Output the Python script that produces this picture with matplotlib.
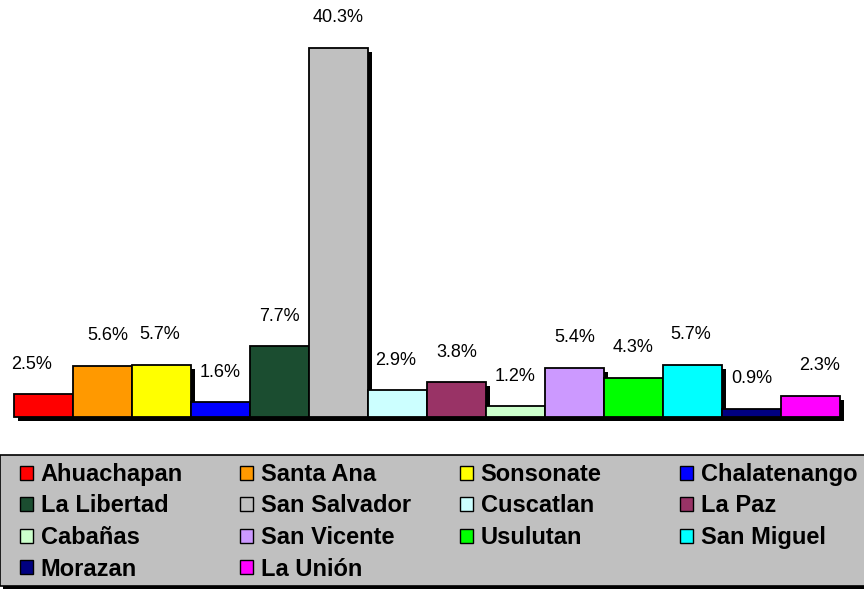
import matplotlib
matplotlib.use("Agg")
import matplotlib.pyplot as plt
from matplotlib.patches import Rectangle
import matplotlib.patheffects as pe

plt.rcParams['font.family'] = ['Liberation Sans', 'DejaVu Sans']

categories = ["Ahuachapan", "Santa Ana", "Sonsonate", "Chalatenango", "La Libertad",
              "San Salvador", "Cuscatlan", "La Paz", "Cabañas", "San Vicente",
              "Usulutan", "San Miguel", "Morazan", "La Unión"]
values = [2.5, 5.6, 5.7, 1.6, 7.7, 40.3, 2.9, 3.8, 1.2, 5.4, 4.3, 5.7, 0.9, 2.3]
labels = ["2.5%", "5.6%", "5.7%", "1.6%", "7.7%", "40.3%", "2.9%", "3.8%",
          "1.2%", "5.4%", "4.3%", "5.7%", "0.9%", "2.3%"]
colors = ["#FF0000", "#FF9900", "#FFFF00", "#0000FF", "#1B4D30", "#C0C0C0",
          "#CCFFFF", "#993366", "#CCFFCC", "#CC99FF", "#00FF00", "#00FFFF",
          "#000080", "#FF00FF"]
label_dx = [-12, 5, -2, 0, 0, 0, -2, 0, 0, 0, 0, -2, 0, 9]

W, H = 864, 590
fig = plt.figure(figsize=(W / 100, H / 100), dpi=100)

ax = fig.add_axes([14 / W, 173 / H, (840 - 14) / W, 417 / H])
ax.set_xlim(-0.5, len(values) - 0.5)
ax.set_ylim(0, 45.5)
ax.axis('off')

shadow = [pe.SimplePatchShadow(offset=(3, -3), shadow_rgbFace='black', alpha=1.0), pe.Normal()]
x = list(range(len(values)))
bars = ax.bar(x, values, width=1.0, color=colors, edgecolor='black', linewidth=1.3)
for b in bars:
    b.set_path_effects(shadow)
    b.set_clip_on(False)

for xi, v, lab, dx in zip(x, values, labels, label_dx):
    ax.annotate(lab, (xi, v), xytext=(dx, 30), textcoords='offset pixels',
                ha='center', va='center', fontsize=13)

# Legend background box with shadow
bg = Rectangle((0, 4 / H), 870 / W, 131 / H, transform=fig.transFigure,
               facecolor='#C0C0C0', edgecolor='black', linewidth=1.2,
               path_effects=[pe.SimplePatchShadow(offset=(2.5, -2.5), shadow_rgbFace='black', alpha=1.0), pe.Normal()],
               zorder=0)
fig.patches.append(bg)

ncol = 4
col_x = [20, 240, 460, 680]
for c in range(ncol):
    idx = list(range(c, len(categories), ncol))
    handles = [Rectangle((0, 0), 1, 1, facecolor=colors[i], edgecolor='black', linewidth=1.0) for i in idx]
    labs = [categories[i] for i in idx]
    leg = fig.legend(handles, labs, loc='upper left',
                     bbox_to_anchor=(col_x[c] / W, (H - 463) / H),
                     frameon=False, borderpad=0, borderaxespad=0,
                     handlelength=0.55, handleheight=0.55, handletextpad=0.32,
                     labelspacing=0.36,
                     prop={'size': 17, 'weight': 'bold'})

fig.savefig('out.png', dpi=100)
